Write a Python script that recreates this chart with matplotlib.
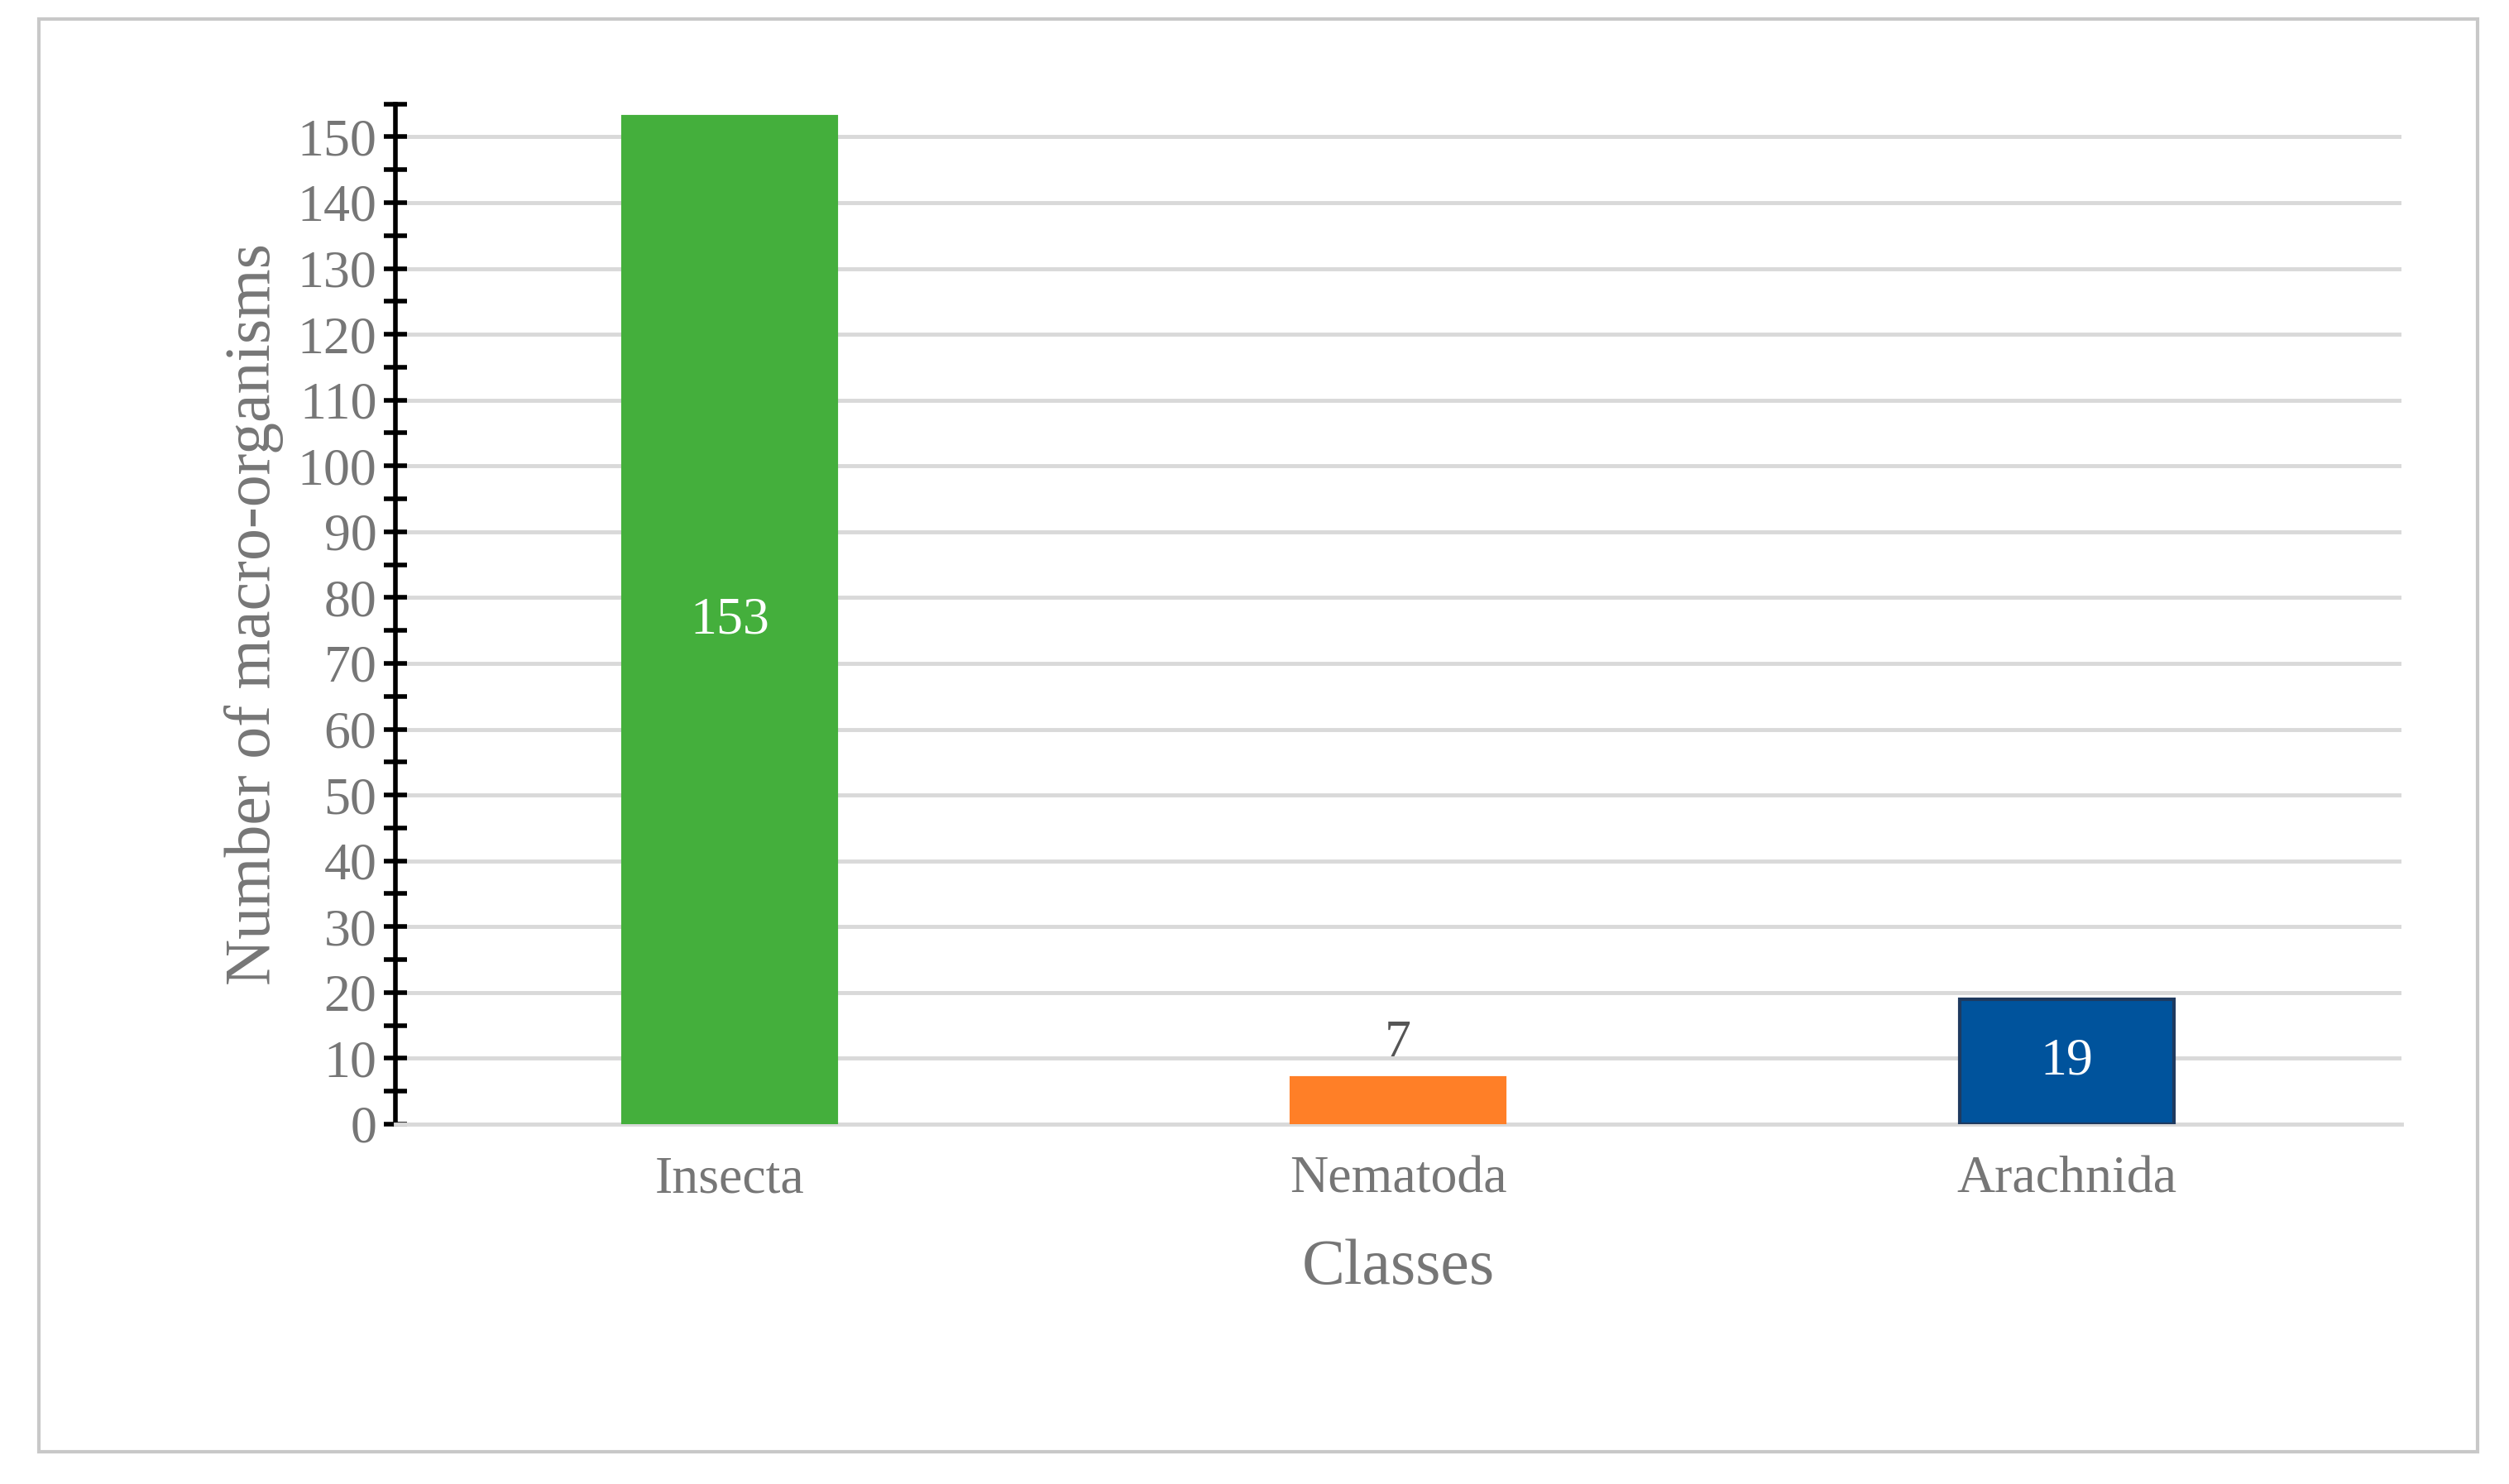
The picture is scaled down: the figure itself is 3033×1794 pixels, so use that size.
import matplotlib
matplotlib.use("Agg")
import matplotlib.pyplot as plt
from matplotlib.patches import Rectangle

categories = ["Insecta", "Nematoda", "Arachnida"]
values = [153, 7, 19]
colors = ["#44AF3C", "#FF7F27", "#00539C"]
edges = ["#44AF3C", "#FF7F27", "#1F3A5F"]

plt.rcParams['font.family'] = ['Liberation Serif', 'DejaVu Serif']
gray = "#767676"
fig = plt.figure(figsize=(30.33, 17.94), dpi=100)
fig.patches.append(Rectangle((0.0155, 0.022), 0.972, 0.965, transform=fig.transFigure,
                             fill=False, edgecolor="#c8c8c8", linewidth=3))
ax = fig.add_axes([0.1575, 0.2425, 0.7995, 0.6875])
ax.set_xlim(-0.5, 2.5)
ax.set_ylim(0, 155)
ax.set_yticks(range(0, 151, 10))
ax.set_yticks(range(5, 156, 10), minor=True)
ax.grid(axis='y', color="#d9d9d9", linewidth=3.5)
ax.set_axisbelow(True)
bars = ax.bar(range(3), values, width=0.32, color=colors, edgecolor=edges, linewidth=3, zorder=3)
for i, v in enumerate(values):
    if v >= 15:
        ax.text(i, v / 2, str(v), ha='center', va='center', color='white', fontsize=46, zorder=4)
    else:
        ax.text(i, v + 1.5, str(v), ha='center', va='bottom', color='#555555', fontsize=46, zorder=4)
for s in ['top', 'right']:
    ax.spines[s].set_visible(False)
ax.spines['left'].set_linewidth(4)
ax.spines['left'].set_color('black')
ax.spines['bottom'].set_color('#d9d9d9')
ax.spines['bottom'].set_linewidth(3.5)
ax.set_xticks(range(3))
ax.set_xticklabels(categories)
ax.tick_params(axis='x', length=0, pad=28, labelsize=46, labelcolor=gray)
ax.tick_params(axis='y', which='major', direction='inout', length=20, width=4, labelsize=46, labelcolor=gray, pad=6)
ax.tick_params(axis='y', which='minor', direction='inout', length=20, width=4)
ax.set_xlabel("Classes", fontsize=56, color=gray, labelpad=30)
ax.set_ylabel("Number of macro-organisms", fontsize=56, color=gray, labelpad=12)
fig.savefig("out.png", dpi=100)
